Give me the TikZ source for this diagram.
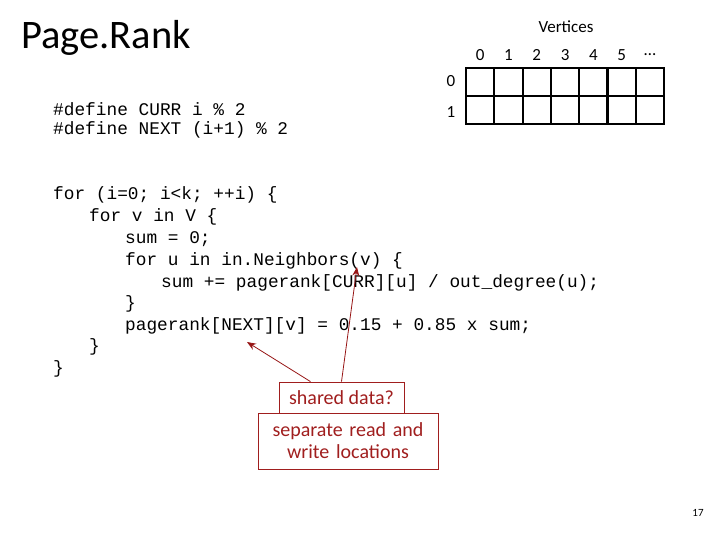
\documentclass[tikz,border=0pt]{standalone}
\usepackage{fontspec}
\setmainfont{Carlito}
\setmonofont{Liberation Mono}
\usetikzlibrary{arrows.meta, positioning}
\definecolor{boxred}{RGB}{160,30,30}
\definecolor{arrowred}{RGB}{150,20,20}
\begin{document}
\begin{tikzpicture}[x=1pt, y=-1pt,
    code/.style={anchor=west, inner sep=0pt, font=\fontsize{17.8}{20}\ttfamily},
    idx/.style={font=\fontsize{17}{20}\selectfont},
    note/.style={draw=boxred, text=boxred, thick, font=\fontsize{20}{24}\selectfont, align=center, inner sep=3pt},
    pointer/.style={arrowred, thick, -{Stealth[length=9pt, width=7pt]}}]
    \useasboundingbox (0,0) rectangle (720,540);
    % Title
    \node[anchor=west, inner sep=0pt, font=\fontsize{40.5}{44}\selectfont] (title) at (21,38) {Page.Rank};
    \node[font=\fontsize{17}{20}\selectfont] (vert) at (566,27) {Vertices};
    % Grid
    \foreach \r in {68,96,124}
        \draw[line width=2.2pt] (465,\r) -- (665,\r);
    \foreach \c in {0,...,7}
        \draw[line width=2.2pt] (466+28.3*\c,68) -- (466+28.3*\c,124);
    \foreach \lbl [count=\i from 0] in {0,1,2,3,4,5,\dots}
        \node[idx] (col\i) at (480.2+28.3*\i,55) {\lbl};
    \node[idx] (row0) at (451,81) {0};
    \node[idx] (row1) at (451,112) {1};
    % Code
    \node[code] (def1) at (53,109) {\#define CURR i \% 2};
    \node[code] (def2) at (53,130) {\#define NEXT (i+1) \% 2};
    \node[code] (l1) at (53,195) {for (i=0; i<k; ++i) \{};
    \node[code] (l2) at (89,217) {for v in V \{};
    \node[code] (l3) at (125,239) {sum = 0;};
    \node[code] (l4) at (125,261) {for u in in.Neighbors(v) \{};
    \node[code] (l5) at (161,283) {sum += pagerank[CURR][u] / out\_degree(u);};
    \node[code] (l6) at (125,304) {\}};
    \node[code] (l7) at (125,326) {pagerank[NEXT][v] = 0.15 + 0.85 x sum;};
    \node[code] (l8) at (89,347) {\}};
    \node[code] (l9) at (53,369) {\}};
    % Notes
    \node[note, minimum width=125pt, minimum height=31pt] (shared) at (341.5,397.5) {shared data?};
    \node[note, minimum width=180pt, minimum height=56pt, text width=170pt] (sep) at (348,441) {separate read and\\[-2pt] write locations};
    \coordinate (nextv) at (247,342);
    \coordinate (curru) at (357,267);
    \draw[pointer] ([xshift=-31pt]shared.north) -- (nextv);
    \draw[pointer] (shared.north) -- (curru);
    \node[font=\fontsize{11}{13}\selectfont] (page) at (698,513) {17};
\end{tikzpicture}
\end{document}
